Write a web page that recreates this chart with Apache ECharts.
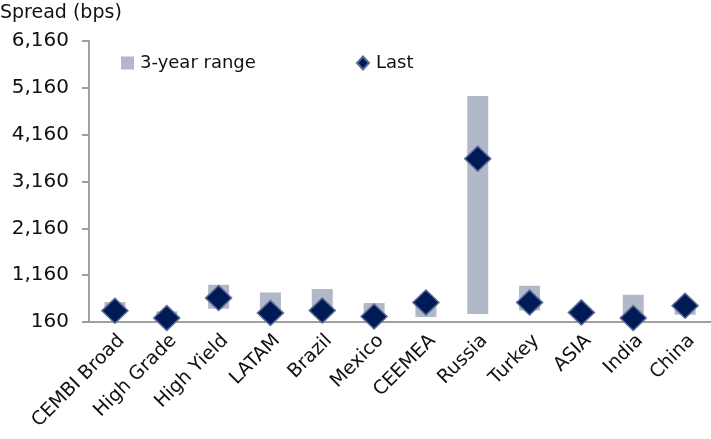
<!DOCTYPE html>
<html>
<head>
<meta charset="utf-8">
<script src="https://cdn.jsdelivr.net/npm/echarts@6/dist/echarts.min.js"></script>
<style>
  html, body { margin: 0; padding: 0; background: #fff; }
  #chart { width: 711px; height: 439px; }
</style>
</head>
<body>
<div id="chart"></div>
<script>
// Corporate bond spreads by segment (bps)
const categories = ['CEMBI Broad', 'High Grade', 'High Yield', 'LATAM', 'Brazil', 'Mexico',
                    'CEEMEA', 'Russia', 'Turkey', 'ASIA', 'India', 'China'];
const rangeLow  = [390, 250, 443, 340, 395, 270, 267, 331, 407, 330, 250, 316];
const rangeHigh = [586, 386, 955, 791, 864, 565, 570, 4985, 934, 400, 742, 520];
const last      = [401, 245, 672, 352, 407, 279, 578, 3648, 578, 365, 245, 508];
const yTicks    = [160, 1160, 2160, 3160, 4160, 5160, 6160];

const FONT = 'DejaVu Sans';
const TEXT = '#111';

// floating bars: an invisible base up to the low end, then the range on top
const rangeSpan = rangeHigh.map((h, i) => h - rangeLow[i]);

const chart = echarts.init(document.getElementById('chart'), null, { renderer: 'canvas' });

chart.setOption({
  animation: false,
  textStyle: { fontFamily: FONT, color: TEXT },
  title: {
    text: 'Spread (bps)',
    left: 0, top: 4, padding: 0,
    textStyle: { fontFamily: FONT, fontSize: 19, fontWeight: 'normal', color: TEXT }
  },
  legend: [
    {
      left: 121, top: 54, padding: 0,
      data: [{ name: '3-year range', icon: 'rect' }],
      itemWidth: 13, itemHeight: 13, itemGap: 0,
      textStyle: { fontFamily: FONT, fontSize: 18, color: TEXT, padding: [0, 0, 0, 1] }
    },
    {
      left: 356, top: 54, padding: 0,
      data: ['Last'],
      itemWidth: 12, itemHeight: 13,
      textStyle: { fontFamily: FONT, fontSize: 18, color: TEXT, padding: [0, 0, 0, 2] }
    }
  ],
  grid: { left: 89, right: 0, top: 41, bottom: 117 },
  xAxis: {
    type: 'category',
    data: categories,
    axisLine: { lineStyle: { color: '#a0a0a0', width: 2 } },
    axisTick: { show: false },
    axisLabel: {
      interval: 0, rotate: 45, margin: 9,
      verticalAlign: 'top',
      fontFamily: FONT, fontSize: 19, color: TEXT
    }
  },
  yAxis: {
    type: 'value',
    min: 160, max: 6160,
    splitLine: { show: false },
    axisLine: { show: true, lineStyle: { color: '#a0a0a0', width: 2 } },
    axisTick: { show: true, length: 7, customValues: yTicks, lineStyle: { color: '#a0a0a0', width: 2 } },
    axisLabel: {
      customValues: yTicks, margin: 20,
      fontFamily: FONT, fontSize: 20, color: TEXT,
      formatter: v => v.toLocaleString('en-US')
    }
  },
  series: [
    {
      name: 'base',
      type: 'bar',
      stack: 'range',
      data: rangeLow,
      barWidth: 21,
      itemStyle: { color: 'rgba(0,0,0,0)' },
      silent: true
    },
    {
      name: '3-year range',
      type: 'bar',
      stack: 'range',
      data: rangeSpan,
      barWidth: 21,
      itemStyle: { color: '#b0b8ca' }
    },
    {
      name: 'Last',
      type: 'scatter',
      data: last,
      symbol: 'diamond',
      symbolSize: [26, 25],
      z: 5,
      itemStyle: { color: '#001a57', opacity: 1, borderColor: '#5b6b93', borderWidth: 1.5 }
    }
  ]
});
</script>
</body>
</html>
